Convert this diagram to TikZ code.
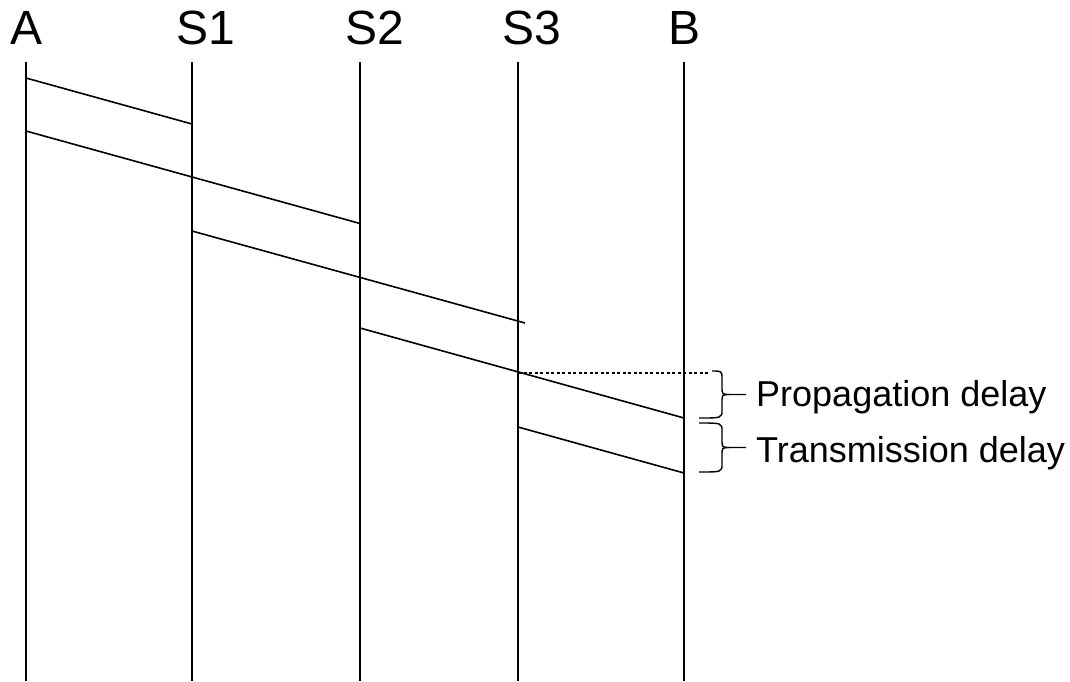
\documentclass[tikz,border=0pt]{standalone}
\usepackage{fontspec}
\setmainfont{Liberation Sans}
\newcommand{\mybrace}[6]{% xltop, y1, xlbot, y2, xb, xt
  \draw[bracestyle] (#1,#2) .. controls (#5,#2) .. (#5,#2+8)
    -- (#5,{(#2+#4)/2-8}) .. controls (#5,{(#2+#4)/2}) .. (#5+8,{(#2+#4)/2}) -- (#6,{(#2+#4)/2});
  \draw[bracestyle] (#5+8,{(#2+#4)/2}) .. controls (#5,{(#2+#4)/2}) .. (#5,{(#2+#4)/2+8})
    -- (#5,#4-8) .. controls (#5,#4) .. (#3,#4);
}
\begin{document}
\begin{tikzpicture}[x=1pt,y=-1pt,
  lifeline/.style={line width=1.6pt},
  msg/.style={line width=1.6pt},
  bracestyle/.style={line width=1.4pt},
  hdr/.style={font=\fontsize{48}{56}\selectfont, anchor=base, inner sep=0pt},
  lbl/.style={font=\fontsize{36}{42}\selectfont, anchor=base west, inner sep=0pt},
  dotline/.style={line width=1.2pt, dash pattern=on 3pt off 2.5pt}]
\useasboundingbox (0,0) rectangle (1070,681);
% lifelines
\foreach \n/\x in {A/26,S1/192,S2/360,S3/518,B/684}{
  \coordinate (\n top) at (\x,62);
  \coordinate (\n bot) at (\x,681);
  \draw[lifeline] (\n top) -- (\n bot);
}
% headers
\node[hdr] (hA) at (26.5,44) {A};
\node[hdr] (hS1) at (206,44) {S1};
\node[hdr] (hS2) at (375,44) {S2};
\node[hdr] (hS3) at (532,44) {S3};
\node[hdr] (hB) at (684,44) {B};
% message endpoints
\coordinate (m1a) at (26,78);  \coordinate (m1b) at (192,124);
\coordinate (m2a) at (26,131); \coordinate (m2b) at (360,223.5);
\coordinate (m3a) at (192,231); \coordinate (m3b) at (525,323);
\coordinate (m4a) at (360,328); \coordinate (m4b) at (684,418);
\coordinate (m5a) at (518,427); \coordinate (m5b) at (684,473);
\draw[msg] (m1a) -- (m1b);
\draw[msg] (m2a) -- (m2b);
\draw[msg] (m3a) -- (m3b);
\draw[msg] (m4a) -- (m4b);
\draw[msg] (m5a) -- (m5b);
% dotted reference line
\coordinate (d1) at (518,373);
\coordinate (d2) at (710,373);
\draw[dotline] (d1) -- (d2);
% braces
\mybrace{712}{371}{699}{418}{722}{746}
\mybrace{699}{423}{699}{472}{722}{746}
\node[lbl] (prop) at (756,406) {Propagation delay};
\node[lbl] (trans) at (756,462) {Transmission delay};
\end{tikzpicture}
\end{document}
